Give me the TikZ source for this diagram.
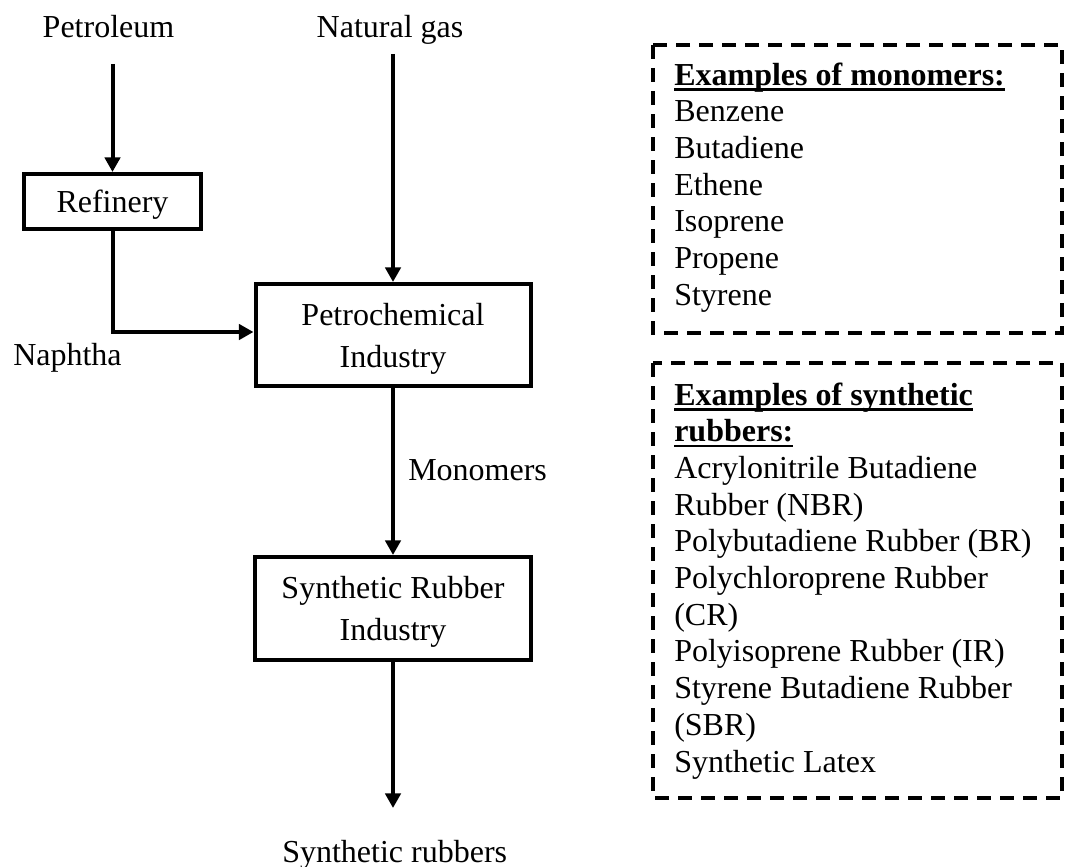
\documentclass[tikz,border=0pt]{standalone}
\usepackage{fontspec}
\setmainfont{Liberation Serif}
\usetikzlibrary{arrows.meta}
\newcommand\myul[1]{\setbox0\hbox{#1}\rlap{\rule[-4.2pt]{\wd0}{1.8pt}}\box0}
\begin{document}
\begin{tikzpicture}[x=0.75pt,y=-0.75pt,
  lbl/.style={inner sep=0pt, font=\fontsize{24}{27.5}\selectfont},
  procbox/.style={draw, line width=3pt, inner sep=0pt, align=center, text depth=0pt, font=\fontsize{24}{31.5}\selectfont},
  flow/.style={line width=3pt, -{Triangle[length=11pt,width=11.5pt]}},
  dashbox/.style={line width=2.5pt, dash pattern=on 10.5pt off 6.75pt}
]
\useasboundingbox (0,0) rectangle (1067,867);

% process boxes
\node[procbox, minimum width=132.75pt, minimum height=41.25pt] (ref) at (112.5,201.5) {Refinery};
\node[procbox, minimum width=206.25pt, minimum height=76.5pt] (pc) at (393,335) {Petrochemical\\Industry};
\node[procbox, minimum width=207pt, minimum height=77.25pt] (sr) at (393,608.5) {Synthetic Rubber\\Industry};

% free labels
\node[lbl, anchor=base] (petrol) at (108.5,38) {Petroleum};
\node[lbl, anchor=base] (natgas) at (390,38) {Natural gas};
\node[lbl, anchor=base west] (naph) at (13,365) {Naphtha};
\node[lbl, anchor=base west] (monlbl) at (408,480) {Monomers};
\node[lbl, anchor=base west] (synr) at (282,862) {Synthetic rubbers};

% connectors
\coordinate (p0) at (112.5,64);
\coordinate (g0) at (393,54);
\coordinate (nk) at (112.5,332);
\coordinate (out) at (393,808);
\draw[flow] (p0) -- (p0 |- ref.north);
\draw[flow] (g0) -- (g0 |- pc.north);
\draw[flow] (ref.south) -- (nk) -- (nk -| pc.west);
\draw[flow] (pc.south) -- (sr.north);
\draw[flow] (sr.south) -- (out);

% dashed frames
\draw[dashbox] (653,45) rectangle (1062,333);
\draw[dashbox] (653,363) rectangle (1062,798);

% monomer list
\node[lbl, anchor=base west] (mh) at (674,85) {\bfseries\myul{Examples of monomers:}};
\foreach \t [count=\i] in {Benzene,Butadiene,Ethene,Isoprene,Propene,Styrene}
  \node[lbl, anchor=base west] (mono\i) at (674,{85+\i*36.7}) {\t};

% rubber list
\node[lbl, anchor=base west] (rh1) at (674,405) {\bfseries\myul{Examples of synthetic}};
\node[lbl, anchor=base west] (rh2) at (674,441.7) {\bfseries\myul{rubbers:}};
\foreach \t [count=\i] in {{Acrylonitrile Butadiene},{Rubber (NBR)},{Polybutadiene Rubber (BR)},{Polychloroprene Rubber},{(CR)},{Polyisoprene Rubber (IR)},{Styrene Butadiene Rubber},{(SBR)},{Synthetic Latex}}
  \node[lbl, anchor=base west] (rub\i) at (674,{441.7+\i*36.7}) {\t};
\end{tikzpicture}
\end{document}
